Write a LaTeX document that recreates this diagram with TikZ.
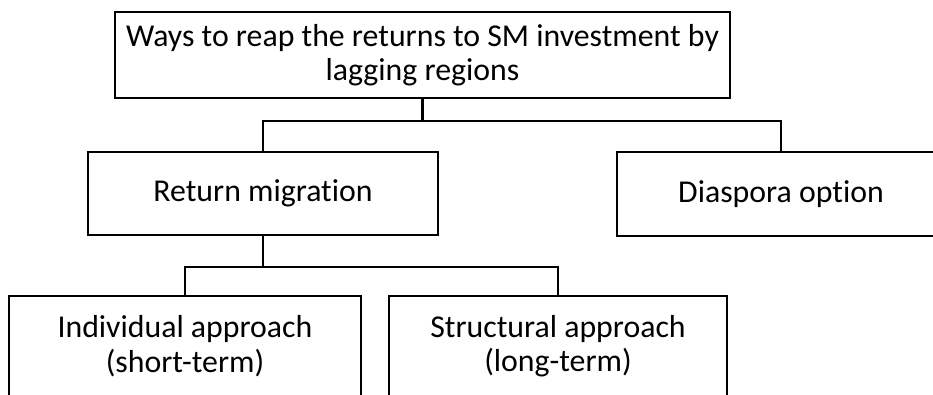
\documentclass[tikz,border=0pt]{standalone}
\usepackage{fontspec}
\setmainfont{Carlito}[Ligatures=NoCommon]
\begin{document}
\begin{tikzpicture}[x=1pt,y=-1pt,
  box/.style={draw, line width=2.2pt, align=center, inner sep=0pt,
    font=\fontsize{31.8}{34.5}\selectfont},
  txt/.style={align=center, inner sep=0pt,
    font=\fontsize{31.8}{34.5}\selectfont},
  conn/.style={draw, line width=2.2pt}]
\useasboundingbox (0,0) rectangle (933,394);
\clip (0,0) rectangle (933,394);
\node[box, minimum width=615pt, minimum height=86pt] (top) at (422.5,55)
  {Ways to reap the returns to SM investment by\\lagging regions};
\node[box, minimum width=350pt, minimum height=83pt] (ret) at (263,193.5)
  {Return migration};
\node[draw, line width=2.2pt, inner sep=0pt, minimum width=380pt,
  minimum height=84pt] (diabox) at (807,194) {};
\node[txt] (dia) at (781,194) {Diaspora option};
\node[box, minimum width=352pt, minimum height=100pt] (ind) at (185,346)
  {Individual approach\\(short-term)};
\node[box, minimum width=338pt, minimum height=100pt] (str) at (558,346)
  {Structural approach\\(long-term)};
\path (ret.north) ++(0,-30) coordinate (b1);
\path (ind.north) ++(0,-28) coordinate (b2);
\draw[conn] (top.south) -- (top.south |- b1);
\draw[conn] (ret.north) -- (b1) -| (dia.center |- diabox.north);
\draw[conn] (ret.south) -- (ret.south |- b2);
\draw[conn] (ind.north) -- (b2) -| (str.north);
\end{tikzpicture}
\end{document}
